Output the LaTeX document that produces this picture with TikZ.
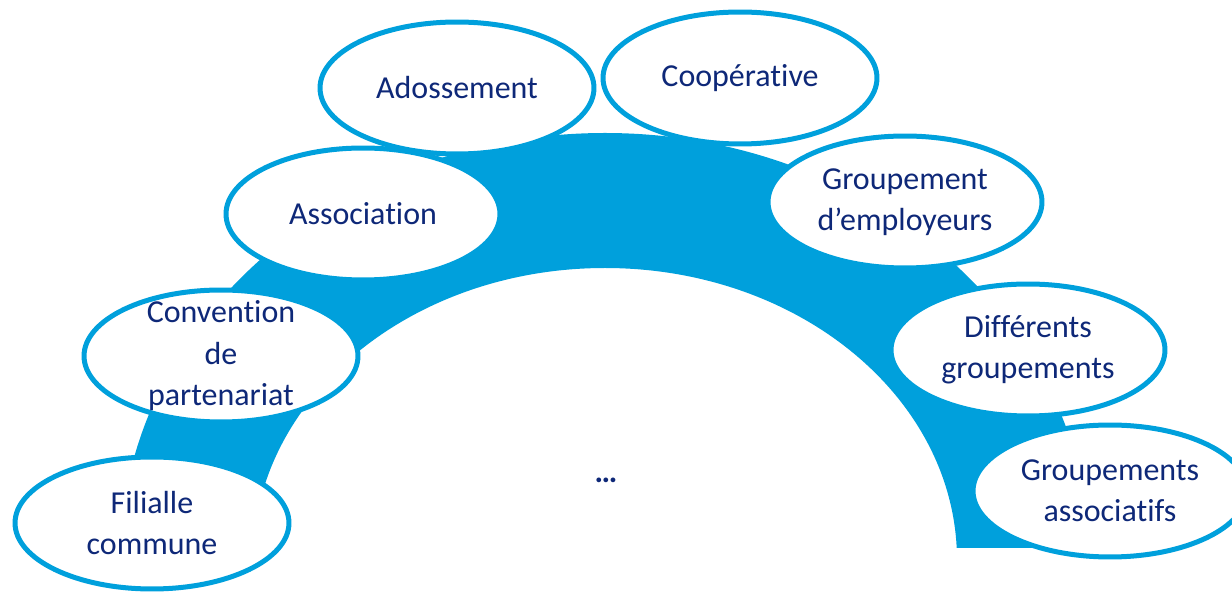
\documentclass[tikz,border=0pt]{standalone}
\usepackage{fontspec}
\setmainfont{Carlito}[Ligatures=NoCommon]
\usepackage{tikz}
\usetikzlibrary{shapes.geometric}
\definecolor{archblue}{RGB}{0,160,220}
\definecolor{textnavy}{RGB}{14,40,120}

\begin{document}
\begin{tikzpicture}[x=0.02cm, y=0.02cm,
    form/.style={ellipse, draw=archblue, line width=0.1cm, fill=white,
        minimum width=5.48cm, minimum height=2.64cm, inner sep=0pt,
        align=center, text=textnavy, font=\fontsize{18.2}{23.6}\selectfont}]
    \useasboundingbox (0,0) rectangle (1232,592);
    % the arch behind the forms
    \begin{scope}
        \clip (0,44) rectangle (1232,592);
        \fill[archblue, even odd rule]
            (605,32) ellipse [x radius=485, y radius=427]
            (605,32) ellipse [x radius=352, y radius=292];
    \end{scope}
    % the forms, left to right
    \node[form] (filiale) at (152,69) {Filialle\\commune};
    \node[form, inner ysep=-0.4cm] (convention) at (221,236) {Convention\\de\\partenariat};
    \node[form] (association) at (363,378) {Association};
    \node[form] (adossement) at (457,504) {Adossement};
    \node[form] (cooperative) at (740,514) {Coopérative};
    \node[form] (employeurs) at (905,390) {Groupement\\d’employeurs};
    \node[form] (differents) at (1028,242) {Différents\\groupements};
    \node[form] (associatifs) at (1110,101) {Groupements\\associatifs};
    \node[text=textnavy, font=\fontsize{18.2}{23.6}\selectfont\bfseries] (dots) at (606,112) {…};
\end{tikzpicture}
\end{document}
